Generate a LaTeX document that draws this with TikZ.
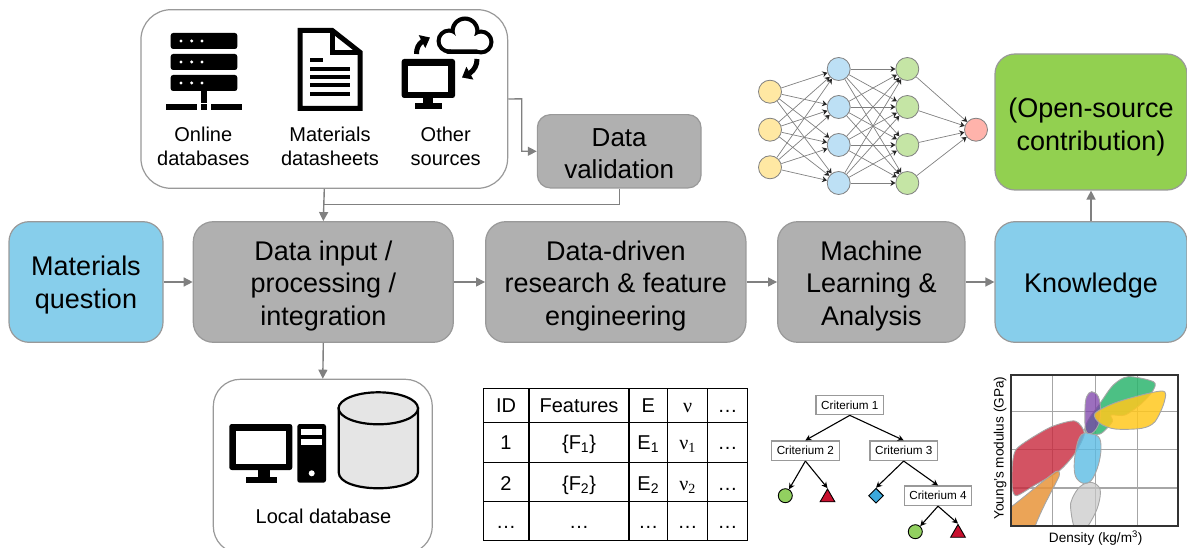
\documentclass[tikz,border=0pt]{standalone}
\usepackage{fontspec}
\setmainfont{Liberation Sans}
\newfontfamily\nufont{Liberation Serif}
\usetikzlibrary{arrows.meta,shapes.geometric,calc,bending}
\newcommand{\topstrut}[1]{\rule{0pt}{#1}}
\definecolor{bbox}{HTML}{999999}
\definecolor{qblue}{HTML}{87CEEB}
\definecolor{pgray}{HTML}{B0B0B0}
\definecolor{ogreen}{HTML}{92D050}
\definecolor{arrowgray}{HTML}{808080}
\definecolor{nny}{HTML}{FFE8A3}
\definecolor{nnb}{HTML}{BDE0F5}
\definecolor{nng}{HTML}{C5E5A5}
\definecolor{nnr}{HTML}{FFB3AB}
\definecolor{treegreen}{HTML}{92D060}
\definecolor{treered}{HTML}{C8102E}
\definecolor{treeblue}{HTML}{3BA9DC}
\tikzset{
  x=1pt,y=-1pt,
  boxbase/.style={draw=bbox,line width=1.2pt,inner sep=0pt,align=center,text=black,text depth=0pt,
     font=\fontsize{27}{33}\selectfont},
  procbox/.style={boxbase,fill=pgray,rounded corners=20pt,minimum height=120.6pt},
  questbox/.style={boxbase,fill=qblue,rounded corners=20pt},
  flow/.style={draw=arrowgray,line width=1.4pt,-{Triangle[width=9pt,length=9pt]}},
  flowplain/.style={draw=arrowgray,line width=1.4pt},
  neuron/.style={circle,draw=gray,line width=0.8pt,minimum size=23pt,inner sep=0pt},
  syn/.style={draw=gray,line width=0.7pt,-{Stealth[black!85,width=6pt,length=5pt]}},
  loopar/.style={draw=black,line width=5pt,-{Triangle[width=14pt,length=9pt,flex]}},
  label20/.style={align=center,inner sep=0pt,font=\fontsize{20}{24.7}\selectfont},
  tabtxt/.style={anchor=base,inner sep=0pt,font=\fontsize{20}{24}\selectfont},
  crit/.style={draw=gray!80,line width=1.2pt,fill=white,inner sep=0pt,minimum height=19.5pt,minimum width=67.5pt,
     font=\fontsize{11.7}{14}\selectfont},
  treearrow/.style={draw=black,line width=1.1pt,-{Stealth[width=6pt,length=6pt]}},
  leaf/.style={draw=black,line width=0.9pt,inner sep=0pt},
  blob/.style={draw=gray!70,line width=0.9pt},
}
\begin{document}
\begin{tikzpicture}
\useasboundingbox (0,0) rectangle (1187,548);
\clip (0,0) rectangle (1187,548);

% ---------- main boxes
\node[questbox,minimum width=154pt,minimum height=120.6pt] (question) at (86,282) {Materials\\question};
\node[procbox,minimum width=260pt] (input) at (323.3,282) {\topstrut{22pt}Data input /\\processing /\\integration};
\node[procbox,minimum width=260.3pt] (driven) at (615.8,282) {\topstrut{22pt}Data-driven\\research \& feature\\engineering};
\node[procbox,minimum width=187.3pt] (ml) at (871.3,282) {\topstrut{22pt}Machine\\Learning \&\\Analysis};
\node[questbox,minimum width=192pt,minimum height=120.6pt] (know) at (1091,282) {\topstrut{22pt}Knowledge};
\node[boxbase,fill=ogreen,rounded corners=20pt,minimum width=192pt,minimum height=136pt] (open) at (1091,122) {\topstrut{24pt}(Open-source\\contribution)};
\node[boxbase,fill=pgray,rounded corners=13pt,minimum width=163.7pt,minimum height=73.3pt,
      font=\fontsize{26}{32}\selectfont] (valid) at (619.2,151.3) {\topstrut{23pt}Data\\validation};
\node[draw=bbox,line width=1.2pt,fill=white,rounded corners=30pt,inner sep=0pt,minimum width=366.7pt,minimum height=178.6pt] (sources) at (324.3,99) {};
\node[draw=bbox,line width=1.2pt,fill=white,rounded corners=27pt,inner sep=0pt,minimum width=219pt,minimum height=174pt] (local) at (322.8,466.3) {};

% ---------- connectors
\coordinate (srcout) at (sources.east);
\coordinate (bendA) at (521.7,98.9);
\coordinate (bendB) at (521.7,151.3);
\coordinate (bendC) at (619.2,204.3);
\coordinate (bendD) at (322.9,204.3);
\draw[flow] (question.east) -- (input.west);
\draw[flow] (input.east) -- (driven.west);
\draw[flow] (driven.east) -- (ml.west);
\draw[flow] (ml.east) -- (know.west);
\draw[flow] (know.north) -- (open.south);
\draw[flow] (input.south) -- (local.north);
\draw[flow] (srcout) -- (bendA) -- (bendB) -- (valid.west);
\draw[flowplain] (valid.south) -- (bendC) -- (bendD);
\draw[flow] (sources.south) -- (input.north);

% ---------- server icon
\foreach \y in {33,54,75}{
  \fill[black,rounded corners=2.5pt] (170.7,\y) rectangle (237.3,\y+16);
  \foreach \x in {181,191.7,202} \fill[white] (\x,\y+8) circle[radius=1.7];
}
\fill[black] (201,91) rectangle (207,103);
\fill[black] (166,104) rectangle (196.7,110);
\fill[black] (201,104) rectangle (207,110);
\fill[black] (211,104) rectangle (241.7,110);
\node[label20] (t1) at (203.3,146.5) {Online\\databases};

% ---------- document icon
\draw[black,line width=5pt,miter limit=4] (300.2,30.5) -- (332.3,30.5) -- (360,52.3) -- (360,108.5) -- (300.2,108.5) -- cycle;
\draw[black,line width=5pt] (332.3,30.5) -- (332.3,52.3) -- (360,52.3);
\foreach \y in {68.7,77,85.3,94} \draw[black,line width=4pt] (310,\y) -- (350,\y);
\draw[black,line width=4pt] (310,60) -- (323.3,60);
\node[label20] (t2) at (330,146.5) {Materials\\datasheets};

% ---------- other sources icon
\fill[black,rounded corners=2.5pt] (401.7,59) rectangle (455,98);
\fill[white] (408,65.7) rectangle (448,91.7);
\fill[black] (423,98) rectangle (433,103);
\fill[black] (415,103) rectangle (442,109);
% cloud
\fill[black] (449,41) circle[radius=12.5];
\fill[black] (465,31) circle[radius=14.5];
\fill[black] (481,42) circle[radius=12.5];
\fill[black,rounded corners=3pt] (445,36) rectangle (485,54);
\fill[white] (449,41) circle[radius=8.3];
\fill[white] (465,31) circle[radius=10.3];
\fill[white] (481,42) circle[radius=8.3];
\fill[white,rounded corners=2pt] (449,36) rectangle (481,49.3);
% loop arrows
\draw[loopar] (416.5,54) .. controls (416.5,46) and (420,41) .. (430,37.5);
\draw[loopar] (477,59) .. controls (477,67) and (473,73) .. (462,77.5);
\node[label20] (t3) at (445.7,146.5) {Other\\sources};

% ---------- neural network
\foreach \i/\y in {1/91.7,2/129.7,3/167.3} \node[neuron,fill=nny] (a\i) at (770,\y) {};
\foreach \i/\y in {1/69,2/107,3/145,4/183} \node[neuron,fill=nnb] (b\i) at (838.7,\y) {};
\foreach \i/\y in {1/69,2/107,3/145,4/183} \node[neuron,fill=nng] (c\i) at (907.3,\y) {};
\node[neuron,fill=nnr] (d1) at (976,129.7) {};
\foreach \i in {1,2,3}\foreach \j in {1,2,3,4} \draw[syn] (a\i) -- (b\j);
\foreach \i in {1,2,3,4}\foreach \j in {1,2,3,4} \draw[syn] (b\i) -- (c\j);
\foreach \i in {1,2,3,4} \draw[syn] (c\i) -- (d1);

% ---------- local database icon
\fill[black,rounded corners=2.5pt] (229.3,424) rectangle (292.3,470);
\fill[white] (235.7,430.7) rectangle (286,464);
\fill[black] (258,470) rectangle (270,477);
\fill[black] (245.7,476.7) rectangle (276.7,482.7);
\fill[black,rounded corners=2.5pt] (297.3,424) rectangle (326,482.7);
\fill[white] (301.3,428.7) rectangle (322.3,435);
\fill[white] (301.3,439) rectangle (322.3,445.3);
\fill[white] (311.7,473.3) circle[radius=3];
\draw[black,line width=2.2pt,fill=gray!20] (338.7,408.3) -- (338.7,472.3) .. controls (338.7,493.6) and (418,493.6) .. (418,472.3) -- (418,408.3) -- cycle;
\draw[black,line width=2.2pt,fill=gray!20] (378.3,408.3) ellipse[x radius=39.7,y radius=16];
\node[label20] (t4) at (323.5,516) {Local database};

% ---------- table
\draw[black,line width=1.5pt] (483.3,388.3) rectangle (747.7,540.7);
\foreach \x in {529,629,667.7,707.7} \draw[black,line width=1.5pt] (\x,388.3) -- (\x,540.7);
\foreach \y in {422.3,462.3,501.7} \draw[black,line width=1.5pt] (483.3,\y) -- (747.7,\y);
\node[tabtxt] (h1) at (506,412.7) {ID};
\node[tabtxt] (h2) at (579,412.7) {Features};
\node[tabtxt] (h3) at (648.3,412.7) {E};
\node[tabtxt] (h4) at (687.7,412.7) {\nufont ν};
\node[tabtxt] (h5) at (727.7,412.7) {…};
\node[tabtxt] (r11) at (506,449.5) {1};
\node[tabtxt] (r12) at (579,449.5) {\{F\textsubscript{1}\}};
\node[tabtxt] (r13) at (648.3,449.5) {E\textsubscript{1}};
\node[tabtxt] (r14) at (687.7,449.5) {\nufont ν\textsubscript{1}};
\node[tabtxt] (r15) at (727.7,449.5) {…};
\node[tabtxt] (r21) at (506,490) {2};
\node[tabtxt] (r22) at (579,490) {\{F\textsubscript{2}\}};
\node[tabtxt] (r23) at (648.3,490) {E\textsubscript{2}};
\node[tabtxt] (r24) at (687.7,490) {\nufont ν\textsubscript{2}};
\node[tabtxt] (r25) at (727.7,490) {…};
\node[tabtxt] (r31) at (506,528.5) {…};
\node[tabtxt] (r32) at (579,528.5) {…};
\node[tabtxt] (r33) at (648.3,528.5) {…};
\node[tabtxt] (r34) at (687.7,528.5) {…};
\node[tabtxt] (r35) at (727.7,528.5) {…};

% ---------- decision tree
\node[crit] (c1crit) at (849.8,405) {Criterium 1};
\node[crit] (c2crit) at (805.4,450.7) {Criterium 2};
\node[crit] (c3crit) at (903.7,450.7) {Criterium 3};
\node[crit] (c4crit) at (938,495.8) {Criterium 4};
\node[leaf,circle,fill=treegreen,minimum size=14pt] (l1) at (785.3,495.7) {};
\node[leaf,regular polygon,regular polygon sides=3,fill=treered,minimum size=17pt] (l2) at (827.5,497.5) {};
\node[leaf,diamond,fill=treeblue,minimum size=15pt] (l3) at (876,495.7) {};
\node[leaf,circle,fill=treegreen,minimum size=14pt] (l4) at (915.3,531.7) {};
\node[leaf,regular polygon,regular polygon sides=3,fill=treered,minimum size=17pt] (l5) at (958,533) {};
\draw[treearrow] (c1crit.south) -- (c2crit.north);
\draw[treearrow] (c1crit.south) -- (c3crit.north);
\draw[treearrow] (c2crit.south) -- (l1);
\draw[treearrow] (c2crit.south) -- (l2.north);
\draw[treearrow] (c3crit.south) -- (l3.north);
\draw[treearrow] (c3crit.south) -- (c4crit.north);
\draw[treearrow] (c4crit.south) -- (l4);
\draw[treearrow] (c4crit.south) -- (l5.north);

% ---------- Ashby chart
\begin{scope}[shift={(985,365)},x=0.33333pt,y=-0.33333pt]
  \foreach \x in {203,332,458} \draw[gray!70,line width=1.2pt] (\x,30) -- (\x,482);
  \foreach \y in {140,254,369} \draw[gray!70,line width=1.2pt] (78,\y) -- (580,\y);
  \begin{scope}
    \clip (78,30) rectangle (580,482);
    \draw[blob,fill=gray!45,fill opacity=.7] plot[smooth cycle,tension=.6] coordinates {(262,400) (285,365) (318,352) (345,372) (340,420) (320,465) (300,490) (270,490) (257,430)};
    \draw[blob,fill={rgb,255:red,200;green,40;blue,60},fill opacity=.8] plot[smooth cycle,tension=.45] coordinates {(92,255) (130,225) (200,185) (270,168) (298,205) (270,265) (222,318) (150,360) (95,392) (82,370) (82,300)};
    \draw[blob,fill={rgb,255:red,232;green,148;blue,58},fill opacity=.85] (70,432) .. controls (120,395) and (170,350) .. (212,320) .. controls (222,314) and (226,322) .. (222,335) .. controls (200,380) and (170,430) .. (148,490) -- (70,490) -- cycle;
    \draw[blob,fill={rgb,255:red,91;green,187;blue,227},fill opacity=.8] plot[smooth cycle,tension=.6] coordinates {(302,203) (340,215) (348,250) (340,300) (320,345) (295,355) (272,335) (268,290) (280,225)};
    \draw[blob,fill={rgb,255:red,45;green,181;blue,110},fill opacity=.85] plot[smooth cycle,tension=.5] coordinates {(430,35) (505,50) (505,75) (470,115) (420,150) (378,150) (382,170) (345,207) (300,200) (310,165) (345,115) (385,60)};
    \draw[blob,fill={rgb,255:red,123;green,63;blue,168},fill opacity=.75] plot[smooth cycle,tension=.6] coordinates {(320,80) (340,95) (347,140) (340,180) (320,205) (302,195) (300,130) (305,95)};
    \draw[blob,fill={rgb,255:red,255;green,200;blue,30},fill opacity=.85] plot[smooth cycle,tension=.5] coordinates {(330,145) (400,110) (530,78) (538,110) (510,170) (470,190) (390,192) (345,175)};
  \end{scope}
  \draw[black!80,line width=1.8pt] (78,30) rectangle (580,482);
\end{scope}
\node[inner sep=0pt,font=\fontsize{13.6}{16}\selectfont] (xlab) at (1095.7,538) {Density (kg/m\textsuperscript{3})};
\node[inner sep=0pt,rotate=90,font=\fontsize{13.6}{16}\selectfont] (ylab) at (1000,448) {Young's modulus (GPa)};
\end{tikzpicture}
\end{document}
